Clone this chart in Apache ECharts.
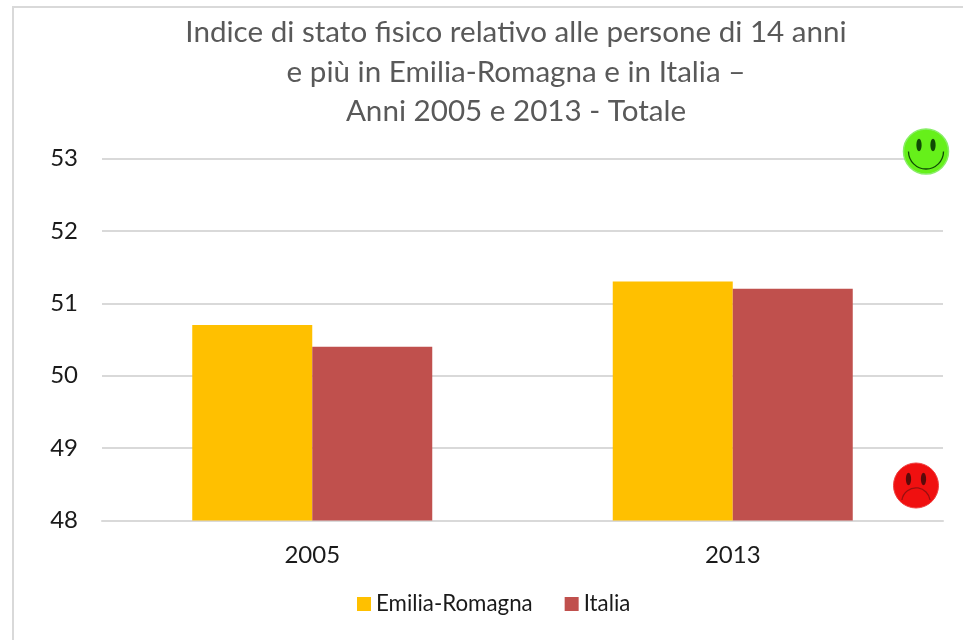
<!DOCTYPE html>
<html><head><meta charset="utf-8">
<style>html,body{margin:0;padding:0;background:#fff}#c{width:963px;height:640px}</style>
<script src="https://cdn.jsdelivr.net/npm/echarts@6/dist/echarts.min.js"></script>
</head><body><div id="c"></div>
<script>
const titleText = "Indice di stato fisico relativo alle persone di 14 anni\ne più in Emilia-Romagna e in Italia –\nAnni 2005 e 2013 - Totale";
const categories = ["2005", "2013"];
const emiliaRomagna = [50.7, 51.3];
const italia = [50.4, 51.2];
const yTicks = {min: 48, max: 53, interval: 1};
const font = "Lato, Carlito, Calibri, sans-serif";
function eyes(cx, cy, dx, color){
  return [-dx, dx].map(d => ({type:'ellipse', shape:{cx:cx+d, cy, rx:2.6, ry:6.2}, style:{fill:color}, z:11, silent:true}));
}
const chart = echarts.init(document.getElementById('c'), null, {renderer:'canvas'});
chart.setOption({
  animation:false,
  backgroundColor:'#fff',
  textStyle:{fontFamily:font},
  title:{text:titleText, left:511, top:8, textAlign:'center',
    textStyle:{fontFamily:font, fontSize:29.6, fontWeight:'normal', color:'#595959', lineHeight:39.5}},
  grid:{left:102, right:20, top:158.5, bottom:119.5},
  legend:{top:588, left:352, itemWidth:14, itemHeight:14, itemGap:32,
    icon:'rect', textStyle:{fontFamily:font, fontSize:22.3, color:'#1a1a1a'},
    data:['Emilia-Romagna','Italia']},
  xAxis:{type:'category', data:categories, axisTick:{show:false},
    axisLine:{lineStyle:{color:'#d9d9d9', width:2}},
    axisLabel:{fontSize:24, color:'#1a1a1a', margin:23}},
  yAxis:{type:'value', min:yTicks.min, max:yTicks.max, interval:yTicks.interval,
    axisLine:{show:false}, axisTick:{show:false},
    splitLine:{lineStyle:{color:'#d9d9d9', width:2}},
    axisLabel:{fontSize:24, color:'#1a1a1a', margin:24}},
  series:[
    {name:'Emilia-Romagna', type:'bar', data:emiliaRomagna, barWidth:120, barGap:0, itemStyle:{color:'#ffc000'}},
    {name:'Italia', type:'bar', data:italia, barWidth:120, barGap:0, itemStyle:{color:'#c0504d'}}
  ],
  graphic:{elements:[
    {type:'rect', shape:{x:13,y:7,width:960,height:660}, style:{fill:null, stroke:'#d9d9d9', lineWidth:2}, z:0, silent:true},
    {type:'circle', shape:{cx:926, cy:151.5, r:22.5}, style:{fill:'#66f01a', stroke:'#88ee66', lineWidth:1.5}, z:10, silent:true},
    ...eyes(926,145,7,'#0f4a05'),
    {type:'arc', shape:{cx:926, cy:151.5, r:17.5, startAngle:0, endAngle:Math.PI}, style:{stroke:'#0f4a05', fill:null, lineWidth:1.3}, z:11, silent:true},
    {type:'circle', shape:{cx:916, cy:485.5, r:22.5}, style:{fill:'#f01010', stroke:'#f04040', lineWidth:1}, z:10, silent:true},
    ...eyes(916,479,7.5,'#5a0a0a'),
    {type:'arc', shape:{cx:916, cy:502, r:14.2, startAngle:Math.PI+0.14, endAngle:2*Math.PI-0.14}, style:{stroke:'#9a1010', fill:null, lineWidth:1.3}, z:11, silent:true}
  ]}
});
</script></body></html>
